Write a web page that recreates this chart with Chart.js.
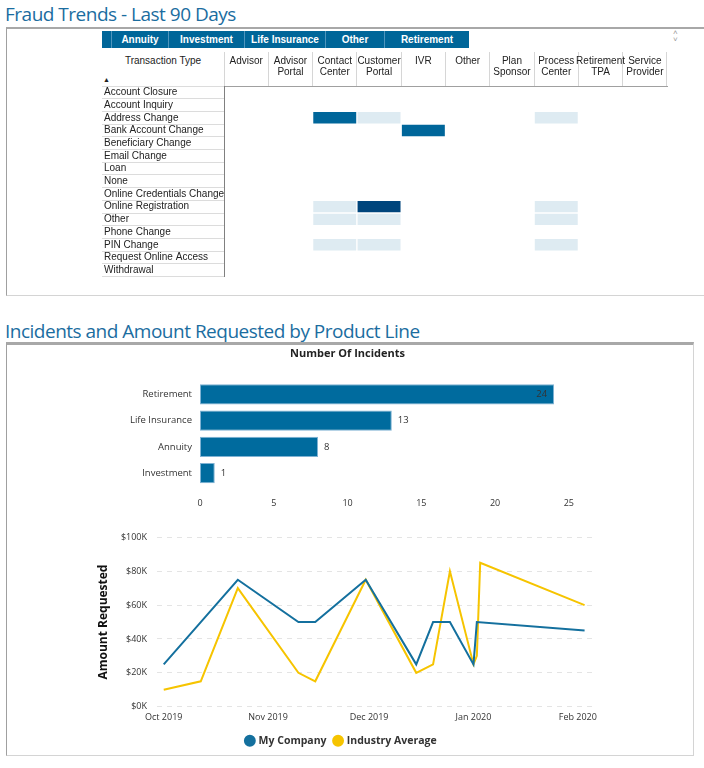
<!DOCTYPE html>
<html>
<head>
<meta charset="utf-8">
<script src="https://cdn.jsdelivr.net/npm/chart.js@4.4.1/dist/chart.umd.min.js"></script>
<style>
  body { margin: 0; background: #fff; width: 704px; height: 768px; position: relative; overflow: hidden; font-family: 'Open Sans', sans-serif; }
  .title { position: absolute; left: 5px; color: #1b6d9f; font-family: 'Open Sans', sans-serif; font-size: 19px; white-space: nowrap; letter-spacing: -0.5px; line-height: 22px; }
  .panel { position: absolute; box-sizing: border-box; border: 1px solid #d4d4d4; border-left-color: #a0a0a0; border-top: 2px solid #a8a8a8; }
  .tabs { position: absolute; left: 102px; top: 31px; height: 17px; display: flex; background: #006699; }
  .tabs span { box-sizing: border-box; color: #fff; font: bold 10px 'Liberation Sans', Arial, sans-serif; line-height: 17px; text-align: center; border-left: 1px solid #4f95bd; }
  .tabs span:first-child { border-left: none; }
  .note { position: absolute; font: 10px 'Liberation Sans', Arial, sans-serif; color: #222; white-space: nowrap; }
  .wrap { position: absolute; }
</style>
</head>
<body>
<div class="title" style="top:3px">Fraud Trends - Last 90 Days</div>
<div class="panel" style="left:6px;top:27px;width:700px;height:269px"></div>
<div class="tabs">
  <span style="width:9px"></span>
  <span style="width:57px">Annuity</span>
  <span style="width:76px">Investment</span>
  <span style="width:81px">Life Insurance</span>
  <span style="width:59px">Other</span>
  <span style="width:85px">Retirement</span>
</div>
<div class="note" style="left:673px;top:29px;color:#999;font-size:8px;line-height:7px">˄<br>˅</div>
<div class="note" style="left:102px;top:55px;width:122px;text-align:center">Transaction Type</div>
<div class="note" style="left:103px;top:76px;font-size:7px">▲</div>
<div class="wrap" style="left:102px;top:50px;width:566px;height:232px"><canvas id="heat"></canvas></div>

<div class="title" style="top:320px">Incidents and Amount Requested by Product Line</div>
<div class="panel" style="left:6px;top:342px;width:688px;height:414px;border-top-width:3px"></div>
<div class="wrap" style="left:114px;top:344px;width:472px;height:177px"><canvas id="bars"></canvas></div>
<div class="wrap" style="left:90px;top:522px;width:520px;height:238px"><canvas id="trend"></canvas></div>

<script>
// fraud heatmap: rows x channels, non-empty cells only
var txTypes = ['Account Closure', 'Account Inquiry', 'Address Change', 'Bank Account Change',
  'Beneficiary Change', 'Email Change', 'Loan', 'None', 'Online Credentials Change',
  'Online Registration', 'Other', 'Phone Change', 'PIN Change', 'Request Online Access', 'Withdrawal'];
var channels = ['Advisor', 'Advisor Portal', 'Contact Center', 'Customer Portal', 'IVR', 'Other',
  'Plan Sponsor', 'Process Center', 'Retirement TPA', 'Service Provider'];
var fraudCells = [
  ['Address Change', 'Contact Center', 2],
  ['Address Change', 'Customer Portal', 1],
  ['Address Change', 'Process Center', 1],
  ['Bank Account Change', 'IVR', 2],
  ['Online Registration', 'Contact Center', 1],
  ['Online Registration', 'Customer Portal', 3],
  ['Online Registration', 'Process Center', 1],
  ['Other', 'Contact Center', 1],
  ['Other', 'Customer Portal', 1],
  ['Other', 'Process Center', 1],
  ['PIN Change', 'Contact Center', 1],
  ['PIN Change', 'Customer Portal', 1],
  ['PIN Change', 'Process Center', 1]
];

// incidents by product line
var productLines = ['Retirement', 'Life Insurance', 'Annuity', 'Investment'];
var incidentCounts = [24, 13, 8, 1];

// amount requested over time
var monthTicks = ['2019-10-01', '2019-11-01', '2019-12-01', '2020-01-01', '2020-02-01'];
var monthLabels = ['Oct 2019', 'Nov 2019', 'Dec 2019', 'Jan 2020', 'Feb 2020'];
var companyDates = ['2019-10-01', '2019-10-12', '2019-10-23', '2019-11-10', '2019-11-15', '2019-11-30',
  '2019-12-15', '2019-12-20', '2019-12-25', '2020-01-01', '2020-01-02', '2020-02-03'];
var companyAmounts = [25000, 50000, 75000, 50000, 50000, 75000, 25000, 50000, 50000, 25000, 50000, 45000];
var industryDates = ['2019-10-01', '2019-10-12', '2019-10-23', '2019-11-10', '2019-11-15', '2019-11-30',
  '2019-12-15', '2019-12-20', '2019-12-25', '2020-01-01', '2020-01-02', '2020-01-03', '2020-02-03'];
var industryAmounts = [10000, 15000, 70000, 20000, 15000, 75000, 20000, 25000, 80000, 25000, 30000, 85000, 60000];

Chart.defaults.font.family = "'Open Sans', sans-serif";
Chart.defaults.animation = false;
Chart.defaults.plugins.tooltip.enabled = false;

var TABLE_FONT = { family: "'Liberation Sans', Arial, sans-serif", size: 10, lineHeight: 1.1 };
var HEAT = { 1: '#deebf2', 2: '#00669a', 3: '#00457c' };
var BLUE = '#14709e';
var YELLOW = '#f6c400';

var DAY0 = Date.UTC(2019, 9, 1);
function day(s) { return (new Date(s + 'T00:00:00Z').getTime() - DAY0) / 86400000; }

// --- heatmap (floating bars on a column-index axis) ---
new Chart(document.getElementById('heat'), {
  type: 'bar',
  data: {
    labels: txTypes,
    datasets: [{
      data: fraudCells.map(function (c) {
        var i = channels.indexOf(c[1]);
        return { x: [i, i + 1], y: c[0], v: c[2] };
      }),
      backgroundColor: function (ctx) { return ctx.raw ? HEAT[ctx.raw.v] : '#fff'; },
      borderColor: 'rgba(255,255,255,0.35)',
      borderWidth: 1,
      borderSkipped: false,
      barPercentage: 1,
      categoryPercentage: 1,
      grouped: false
    }]
  },
  options: {
    indexAxis: 'y',
    responsive: true, maintainAspectRatio: false,
    layout: { padding: { left: 2, right: 1, bottom: 0 } },
    plugins: { legend: { display: false } },
    scales: {
      x: {
        type: 'linear', position: 'top', min: 0, max: channels.length,
        afterBuildTicks: function (s) { s.ticks = channels.map(function (_, i) { return { value: i + 0.5 }; }); },
        afterFit: function (s) { s.height = 36; },
        ticks: {
          autoSkip: false, maxRotation: 0, padding: -25.5, color: '#222', font: TABLE_FONT,
          callback: function (v, i) {
            var p = channels[i].split(' ');
            return p.length > 1 ? p : [p[0], ''];
          }
        },
        grid: { offset: true, drawOnChartArea: false, tickLength: 34, color: '#d6d6d6' },
        border: { display: true, color: '#a0a0a0' }
      },
      y: {
        afterFit: function (s) { s.width = 120; },
        ticks: { autoSkip: false, crossAlign: 'far', padding: 0, color: '#222', font: TABLE_FONT },
        grid: { offset: true, drawOnChartArea: false, tickLength: 122, color: '#dcdcdc' },
        border: { display: true, color: '#808080' }
      }
    }
  }
});

// value labels at the end of each bar (inside when it would overflow)
var barValues = {
  id: 'barValues',
  afterDatasetsDraw: function (chart) {
    var c = chart.ctx, area = chart.chartArea;
    c.save();
    c.font = "9.5px 'Open Sans', sans-serif";
    c.fillStyle = '#333';
    c.textBaseline = 'middle';
    chart.getDatasetMeta(0).data.forEach(function (bar, i) {
      var t = String(chart.data.datasets[0].data[i]);
      var w = c.measureText(t).width;
      if (bar.x + 6 + w > area.right) { c.textAlign = 'right'; c.fillText(t, bar.x - 7, bar.y); }
      else { c.textAlign = 'left'; c.fillText(t, bar.x + 6, bar.y); }
    });
    c.restore();
  }
};

new Chart(document.getElementById('bars'), {
  type: 'bar',
  data: {
    labels: productLines,
    datasets: [{
      data: incidentCounts,
      backgroundColor: '#006b9e',
      borderColor: '#7fb2d3',
      borderWidth: 1,
      borderSkipped: false,
      barPercentage: 0.77,
      categoryPercentage: 1
    }]
  },
  options: {
    indexAxis: 'y',
    responsive: true, maintainAspectRatio: false,
    layout: { padding: { right: 5 } },
    plugins: {
      legend: { display: false },
      title: { display: true, text: 'Number Of Incidents', color: '#222',
        font: { size: 11, weight: 'bold' }, padding: { top: 3, bottom: 21 } }
    },
    scales: {
      x: {
        min: 0, max: 25,
        ticks: { stepSize: 5, padding: 12, color: '#333', font: { size: 9 } },
        grid: { display: false, drawTicks: false },
        border: { display: false }
      },
      y: {
        afterFit: function (s) { s.width = 86; },
        ticks: { padding: 8, color: '#333', font: { size: 9.5 } },
        grid: { display: false, drawTicks: false },
        border: { display: false }
      }
    }
  },
  plugins: [barValues]
});

// --- amount requested trend (linear day axis, month ticks) ---
function series(dates, values) {
  return dates.map(function (d, i) { return { x: day(d), y: values[i] }; });
}

new Chart(document.getElementById('trend'), {
  type: 'line',
  data: {
    datasets: [
      { label: 'My Company', data: series(companyDates, companyAmounts),
        borderColor: BLUE, backgroundColor: BLUE, borderWidth: 2, pointRadius: 0, tension: 0 },
      { label: 'Industry Average', data: series(industryDates, industryAmounts),
        borderColor: YELLOW, backgroundColor: YELLOW, borderWidth: 2, pointRadius: 0, tension: 0 }
    ]
  },
  options: {
    responsive: true, maintainAspectRatio: false,
    layout: { padding: { top: 13, right: 17, bottom: 4 } },
    plugins: {
      legend: {
        position: 'bottom',
        labels: { usePointStyle: true, pointStyle: 'circle', boxWidth: 7, boxHeight: 7, padding: 8,
          color: '#333', font: { size: 10.5, weight: 'bold' } }
      }
    },
    scales: {
      x: {
        type: 'linear', min: -2, max: 127.5,
        afterBuildTicks: function (s) { s.ticks = monthTicks.map(function (d) { return { value: day(d) }; }); },
        ticks: { autoSkip: false, maxRotation: 0, padding: 5, color: '#333', font: { size: 9 },
          callback: function (v, i) { return monthLabels[i]; } },
        grid: { display: false, drawTicks: false },
        border: { display: false }
      },
      y: {
        min: 0, max: 100000,
        afterFit: function (s) { s.width = 67; },
        ticks: { stepSize: 20000, padding: 10, color: '#333', font: { size: 9 },
          callback: function (v) { return '$' + (v / 1000) + 'K'; } },
        grid: { color: '#e4e4e4', drawTicks: false },
        border: { display: false, dash: [5, 5] },
        title: { display: true, text: 'Amount Requested', color: '#111',
          font: { size: 12, weight: 'bold' }, padding: { top: 6, bottom: 0 } }
      }
    }
  }
});
</script>
</body>
</html>
